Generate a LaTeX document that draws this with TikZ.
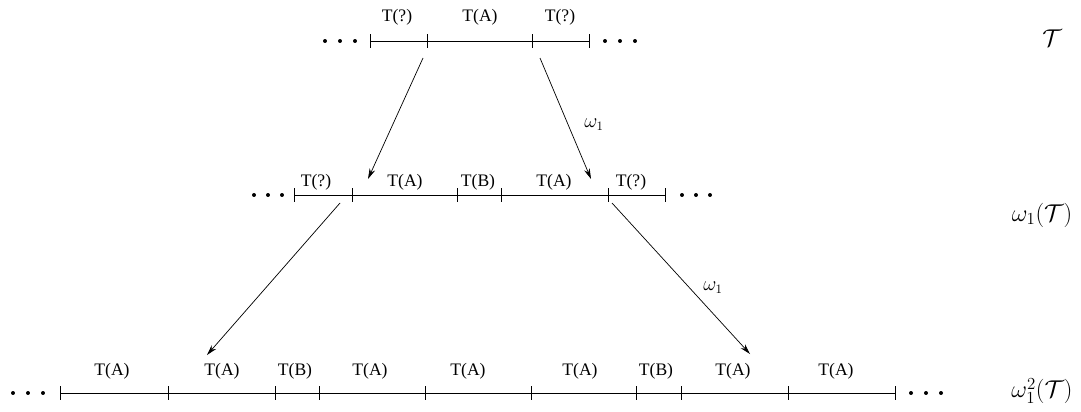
\documentclass[tikz,border=0pt]{standalone}
\usepackage{fontspec}
\setmainfont{Liberation Serif}
\usepackage{tikz}
\usetikzlibrary{arrows.meta}
\tikzset{
  seg/.style={draw=black, line width=0.6pt},
  tick/.style={draw=black, line width=0.6pt},
  dot/.style={circle, fill=black, inner sep=0pt, minimum size=3.4pt},
  lbl/.style={font=\fontsize{15}{18}\selectfont, inner sep=1pt},
  map/.style={draw=black, line width=0.6pt, -{Stealth[length=9pt,width=5pt]}},
  maplbl/.style={font=\fontsize{16}{18}\selectfont, inner sep=1pt},
  lvl/.style={font=\fontsize{20}{24}\selectfont, inner sep=1pt},
  tiling/.style={x=0.3mm, y=-0.3mm}
}

\begin{document}
\begin{tikzpicture}[tiling]
  \useasboundingbox (0,0) rectangle (1081,412);
  % top row
  \coordinate (a1) at (370,41); \coordinate (a2) at (427,41);
  \coordinate (a3) at (532,41); \coordinate (a4) at (589,41);
  \draw[seg] (a1) -- (a4);
  \foreach \t in {a1,a2,a3,a4} \draw[tick] (\t) +(0,-7) -- +(0,7);
  \foreach \x in {325,340,355,605,620,635} \node[dot] (ad\x) at (\x,41) {};
  \node[lbl] (la1) at (397,17) {T(?)};
  \node[lbl] (la2) at (480,17) {T(A)};
  \node[lbl] (la3) at (560,17) {T(?)};
  % middle row
  \coordinate (b1) at (294,195); \coordinate (b2) at (352,195);
  \coordinate (b3) at (457,195); \coordinate (b4) at (501,195);
  \coordinate (b5) at (608,195); \coordinate (b6) at (665,195);
  \draw[seg] (b1) -- (b6);
  \foreach \t in {b1,b2,b3,b4,b5,b6} \draw[tick] (\t) +(0,-7) -- +(0,7);
  \foreach \x in {254,268,282,682,696,710} \node[dot] (bd\x) at (\x,195) {};
  \node[lbl] (lb1) at (316,182) {T(?)};
  \node[lbl] (lb2) at (405,182) {T(A)};
  \node[lbl] (lb3) at (478,182) {T(B)};
  \node[lbl] (lb4) at (554,182) {T(A)};
  \node[lbl] (lb5) at (631,182) {T(?)};
  % bottom row
  \coordinate (c1) at (60,393);  \coordinate (c2) at (168,393);
  \coordinate (c3) at (275,393); \coordinate (c4) at (319,393);
  \coordinate (c5) at (425,393); \coordinate (c6) at (531,393);
  \coordinate (c7) at (636,393); \coordinate (c8) at (681,393);
  \coordinate (c9) at (788,393); \coordinate (c10) at (895,393);
  \draw[seg] (c1) -- (c10);
  \foreach \t in {c1,c2,c3,c4,c5,c6,c7,c8,c9,c10} \draw[tick] (\t) +(0,-7) -- +(0,7);
  \foreach \x in {13,28,43,911,926,941} \node[dot] (cd\x) at (\x,393) {};
  \node[lbl] (lc1) at (112,371) {T(A)};
  \node[lbl] (lc2) at (222,371) {T(A)};
  \node[lbl] (lc3) at (295,371) {T(B)};
  \node[lbl] (lc4) at (370,371) {T(A)};
  \node[lbl] (lc5) at (468,371) {T(A)};
  \node[lbl] (lc6) at (580,371) {T(A)};
  \node[lbl] (lc7) at (656,371) {T(B)};
  \node[lbl] (lc8) at (733,371) {T(A)};
  \node[lbl] (lc9) at (836,371) {T(A)};
  % arrows
  \coordinate (s1) at (423,58);  \coordinate (e1) at (368,179);
  \coordinate (s2) at (540,58);  \coordinate (e2) at (591,179);
  \coordinate (s3) at (340,203); \coordinate (e3) at (207,355);
  \coordinate (s4) at (612,203); \coordinate (e4) at (750,354);
  \draw[map] (s1) -- (e1);
  \draw[map] (s2) -- (e2);
  \draw[map] (s3) -- (e3);
  \draw[map] (s4) -- (e4);
  \node[maplbl] (w1) at (594,125) {$\omega_1$};
  \node[maplbl] (w2) at (713,288) {$\omega_1$};
  % levels
  \node[lvl] (T0) at (1052,38) {$\mathcal{T}$};
  \node[lvl] (T1) at (1042,215) {$\omega_1(\mathcal{T})$};
  \node[lvl] (T2) at (1042,391) {$\omega_1^2(\mathcal{T})$};
\end{tikzpicture}
\end{document}
